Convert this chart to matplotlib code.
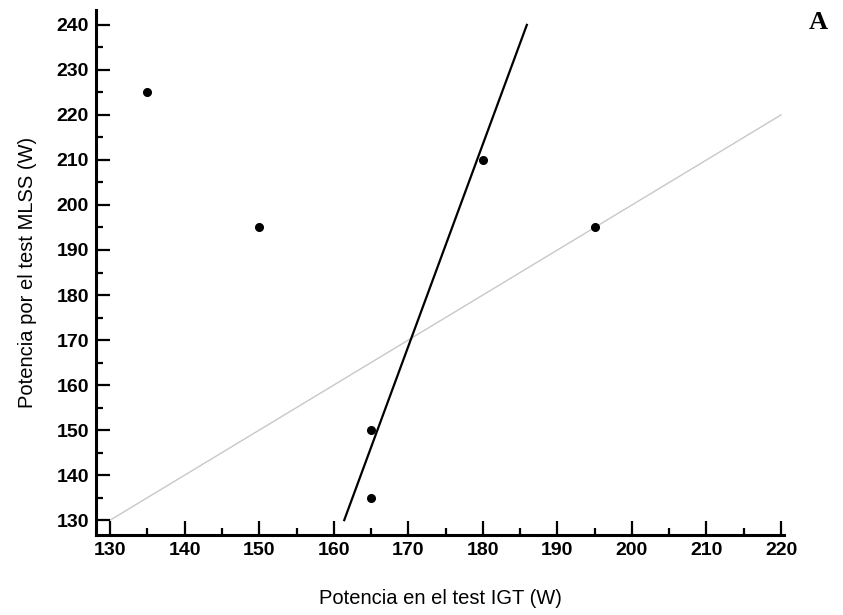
# plot.py
# Potencia IGT vs MLSS: scatter with identity line and fitted line

import matplotlib
matplotlib.use("Agg")
import matplotlib.pyplot as plt
from matplotlib.ticker import MultipleLocator

# data
igt_w = [135, 150, 165, 165, 180, 195]
mlss_w = [225, 195, 150, 135, 210, 195]

identity_x = [130, 220]
identity_y = [130, 220]

fit_x = [161.4, 185.9]
fit_y = [130, 240]

x_ticks = [130, 140, 150, 160, 170, 180, 190, 200, 210, 220]
y_ticks = [130, 140, 150, 160, 170, 180, 190, 200, 210, 220, 230, 240]

plt.rcParams["font.family"] = ["Liberation Sans", "DejaVu Sans"]

fig = plt.figure(figsize=(8.43, 6.15), dpi=100)
ax = fig.add_axes([0.1139, 0.1301, 0.930 - 0.1139, 0.9837 - 0.1301])

ax.plot(identity_x, identity_y, color="#c8c8c8", lw=1.0, zorder=1)
ax.plot(fit_x, fit_y, color="black", lw=1.6, zorder=2)
ax.plot(igt_w, mlss_w, "o", color="black", markersize=5.5, zorder=3)

ax.set_xlim(128.1, 220.4)
ax.set_ylim(126.7, 243.3)
ax.set_xticks(x_ticks)
ax.set_yticks(y_ticks)
ax.xaxis.set_minor_locator(MultipleLocator(5))
ax.yaxis.set_minor_locator(MultipleLocator(5))

for side in ["top", "right"]:
    ax.spines[side].set_visible(False)
for side in ["left", "bottom"]:
    ax.spines[side].set_linewidth(2.2)

ax.tick_params(which="major", direction="in", length=10, width=1.6,
               labelsize=14, pad=5)
ax.tick_params(which="minor", direction="in", length=5, width=1.6)
for lab in ax.get_xticklabels() + ax.get_yticklabels():
    lab.set_fontweight("bold")

ax.set_xlabel("Potencia en el test IGT (W)", fontsize=14.5, labelpad=22)
ax.set_ylabel("Potencia por el test MLSS (W)", fontsize=14.5, labelpad=14)

fig.text(0.982, 0.964, "A", fontsize=19, fontweight="bold",
         family="Liberation Serif", ha="right", va="center")

fig.savefig("out.png", dpi=100)
